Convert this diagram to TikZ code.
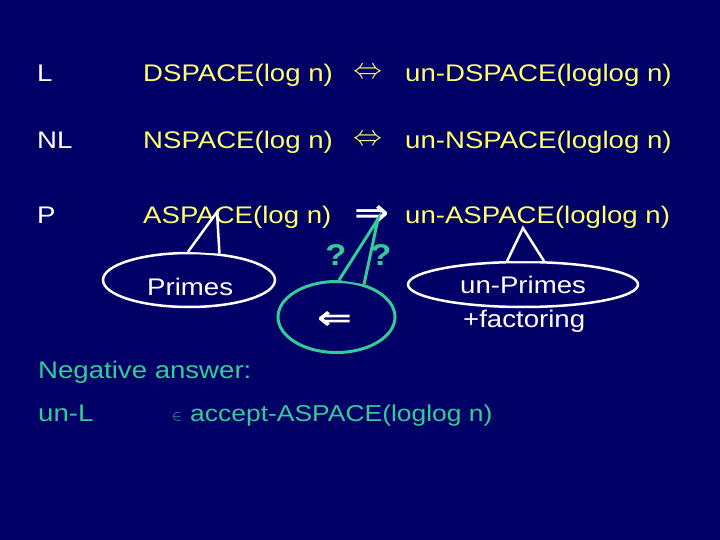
\documentclass[tikz,border=0pt]{standalone}
\usepackage{fontspec}
\setmainfont{Liberation Sans}[FakeStretch=1.15]
\newfontfamily\arrowfont{DejaVu Sans}
\usepackage{amsmath}
\usetikzlibrary{shapes.geometric}
\definecolor{slidebg}{RGB}{0,0,102}
\definecolor{slideyellow}{RGB}{255,255,102}
\definecolor{slideteal}{RGB}{51,204,153}

\begin{document}
\begin{tikzpicture}[x=1pt, y=-1pt, txt/.style={anchor=base west, inner sep=0pt, font=\fontsize{24}{28}\selectfont}, bubble/.style={ellipse, draw=white, line width=2.5pt, inner sep=0pt}, sym/.style={inner sep=0pt}]
\fill[slidebg] (0,0) rectangle (720,540);
\useasboundingbox (0,0) rectangle (720,540);
% three rows
\node[txt, text=white] at (37, 82) (l) {L};
\node[txt, text=slideyellow] at (143, 82) (dspace) {DSPACE(log n)};
\node[sym, text=slideyellow] at (368, 73) (eq1) {\resizebox{29pt}{!}{$\Leftrightarrow$}};
\node[txt, text=slideyellow] at (405, 82) (undspace) {un-DSPACE(loglog n)};
\node[txt, text=white] at (37, 149) (nl) {NL};
\node[txt, text=slideyellow] at (143, 149) (nspace) {NSPACE(log n)};
\node[sym, text=slideyellow] at (368, 140) (eq2) {\resizebox{29pt}{!}{$\Leftrightarrow$}};
\node[txt, text=slideyellow] at (405, 149) (unnspace) {un-NSPACE(loglog n)};
\node[txt, text=white] at (37, 224) (p) {P};
\node[txt, text=slideyellow] at (143, 224) (aspace) {ASPACE(log n)};
\node[sym, text=white] at (372, 215) (impl) {\resizebox{35pt}{20pt}{\arrowfont\bfseries ⇒}};
\node[txt, text=slideyellow] at (405, 224) (unaspace) {un-ASPACE(loglog n)};
% bubbles
\node[bubble, minimum width=172pt, minimum height=54pt] at (189, 280) (primesbub) {};
\node[txt, text=white] at (147, 295) (primes) {Primes};
\coordinate (primestip) at (217, 212);
\fill[slidebg] (primesbub.92) -- (primestip) -- (primesbub.41) -- cycle;
\draw[white, line width=2.5pt] (primesbub.92) -- (primestip) -- (primesbub.41);
\node[bubble, minimum width=230pt, minimum height=45pt] at (523, 284.5) (unprimesbub) {};
\node[txt, text=white] at (460, 293) (unprimes) {un-Primes};
\node[txt, text=white] at (463, 327) (factoring) {+factoring};
\coordinate (unprimestip) at (523, 228);
\fill[slidebg] (unprimesbub.124) -- (unprimestip) -- (unprimesbub.48) -- cycle;
\draw[white, line width=2.5pt] (unprimesbub.124) -- (unprimestip) -- (unprimesbub.48);
\node[bubble, draw=slideteal, line width=3pt, minimum width=117pt, minimum height=71pt] at (336.5, 317) (backbub) {};
\coordinate (backtip) at (378, 219);
\fill[slidebg] (backbub.86) -- (backtip) -- (backbub.50) -- cycle;
\draw[slideteal, line width=3pt] (backbub.86) -- (backtip) -- (backbub.50);
\node[sym, text=white] at (335, 320) (back) {\resizebox{35pt}{18pt}{\arrowfont\bfseries ⇐}};
\node[sym, anchor=base, text=slideteal, font=\bfseries\fontsize{30}{30}\selectfont] at (336, 265) (q1) {?};
\node[sym, anchor=base, text=slideteal, font=\bfseries\fontsize{30}{30}\selectfont] at (381, 265) (q2) {?};
% answer
\node[txt, text=slideteal] at (38, 378) (neg) {Negative answer:};
\node[txt, text=slideteal] at (38, 421) (unl) {un-L};
\node[sym, anchor=base west, text=slideteal] at (172, 420) (in) {\resizebox{10pt}{!}{$\in$}};
\node[txt, text=slideteal, font=\fontsize{23}{28}\selectfont] at (190, 421) (accept) {accept-ASPACE(loglog n)};
\end{tikzpicture}
\end{document}
